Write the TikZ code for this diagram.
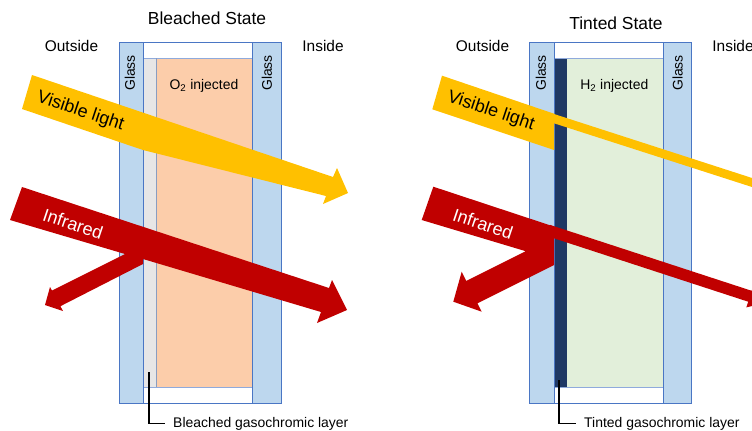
\documentclass[tikz,border=0pt]{standalone}
\usepackage{fontspec}
\setmainfont{Liberation Sans}
\definecolor{glassfill}{HTML}{BDD7EE}
\definecolor{glassline}{HTML}{4A76C4}
\definecolor{innerl}{HTML}{8FAADC}
\definecolor{greylayer}{HTML}{E7E6E6}
\definecolor{peach}{HTML}{FCCDAA}
\definecolor{palegreen}{HTML}{E2EFDA}
\definecolor{navylayer}{HTML}{1F3864}
\definecolor{vislight}{HTML}{FFC000}
\definecolor{irred}{HTML}{C00000}
\begin{document}
\begin{tikzpicture}[x=1bp,y=-1bp,
  glass/.style={fill=glassfill,draw=glassline,line width=0.9bp},
  frameline/.style={draw=innerl,line width=0.8bp},
  txt/.style={inner sep=0pt,text=black},
  titletxt/.style={txt,font=\fontsize{17.5}{21}\selectfont},
  sidetxt/.style={txt,font=\fontsize{15.5}{18}\selectfont},
  labtxt/.style={txt,font=\fontsize{14}{17}\selectfont},
  arrtxt/.style={txt,font=\fontsize{18}{21}\selectfont},
  bracket/.style={draw=black,line width=1.5bp},
  visfill/.style={fill=vislight},
  irfill/.style={fill=irred}]
\useasboundingbox (0,0) rectangle (752,430);
\clip (0,0) rectangle (752,430);

% ---------------- Bleached state (left panel) ----------------
\draw[glass,fill=white] (119,42) rectangle (281,403);
\fill[greylayer] (143,58) rectangle (156,387);
\fill[peach] (156,58) rectangle (252,387);
\draw[frameline] (143,58) -- (252,58) (143,387) -- (252,387);
\draw[draw=innerl!70!gray,line width=0.5bp] (156,58) -- (156,387);
\draw[glass] (119,42) rectangle (143,403);
\draw[glass] (252,42) rectangle (281,403);

\node[titletxt,anchor=base] (tB) at (207,24) {Bleached State};
\node[sidetxt,anchor=base] (oB) at (71.5,51) {Outside};
\node[sidetxt,anchor=base] (iB) at (323,51) {Inside};
\node[labtxt,anchor=base] (gB) at (204,89) {O\textsubscript{2} injected};
\node[labtxt,rotate=90] (gl1) at (130,73) {Glass};
\node[labtxt,rotate=90] (gl2) at (267,73) {Glass};

% visible light arrow
\fill[visfill] (32,75) -- (333,177) -- (337,168) -- (348,193) -- (323,204)
  -- (326,196) -- (143,150) -- (22,109) -- cycle;
% infrared arrow with reflected part
\fill[irfill] (22,187) -- (329,288) -- (332,280) -- (347,310) -- (317,323)
  -- (321,312) -- (143,259) -- (143,264) -- (60.4,306.2) -- (63,311)
  -- (45,305) -- (50,287) -- (52,290.6) -- (125,254) -- (10,220) -- cycle;

\node[arrtxt,anchor=base,rotate=-18.5] (vB) at (79,116) {Visible light};
\node[arrtxt,anchor=base,rotate=-18.5,text=white] (rB) at (71,230) {Infrared};

\node[labtxt,anchor=base west] (lB) at (173,427) {Bleached gasochromic layer};
\coordinate (bB) at (149,372);
\draw[bracket] (bB) |- ([xshift=-8bp]lB.west);

% ---------------- Tinted state (right panel) ----------------
\begin{scope}[xshift=410bp]
\draw[glass,fill=white] (119,42) rectangle (281,403);
\fill[navylayer] (144,58) rectangle (157,387);
\fill[palegreen] (157,58) rectangle (253,387);
\draw[frameline] (144,58) -- (253,58) (144,387) -- (253,387);
\draw[glass] (119,42) rectangle (144,403);
\draw[glass] (253,42) rectangle (281,403);

\node[titletxt,anchor=base] (tT) at (206,29) {Tinted State};
\node[sidetxt,anchor=base] (oT) at (72.5,51) {Outside};
\node[sidetxt,anchor=base] (iT) at (323,51) {Inside};
\node[labtxt,anchor=base] (gT) at (204.3,89) {H\textsubscript{2} injected};
\node[labtxt,rotate=90] (gl3) at (131,73) {Glass};
\node[labtxt,rotate=90] (gl4) at (267.5,73) {Glass};

% visible light: wide part stops at the layer, thin beam continues
\fill[visfill] (32,75.7) -- (144,113.7) -- (144,150) -- (22.3,109.3) -- cycle;
\fill[visfill] (140,112.7) -- (360,183.8) -- (360,192.8) -- (140,122) -- cycle;
% infrared: wide part with strong reflection, thin beam continues
\fill[irfill] (23.3,186.7) -- (144,226.6) -- (144,265) -- (67.5,303.3)
  -- (71.7,311.7) -- (43.3,301.7) -- (51.7,271.7) -- (56.3,280.9)
  -- (115.7,251.2) -- (11.7,220) -- cycle;
\fill[irfill] (140,224.9) -- (341.7,290.8) -- (343.7,284.6) -- (359,302)
  -- (336.3,307.4) -- (338.2,301.7) -- (140,237) -- cycle;

\node[arrtxt,anchor=base,rotate=-18.5] (vT) at (79.5,115.5) {Visible light};
\node[arrtxt,anchor=base,rotate=-18.5,text=white] (rT) at (71,230) {Infrared};

\node[labtxt,anchor=base west] (lT) at (174,427) {Tinted gasochromic layer};
\coordinate (bT) at (149,380);
\draw[bracket] (bT) |- ([xshift=-8bp]lT.west);
\end{scope}
\end{tikzpicture}
\end{document}
